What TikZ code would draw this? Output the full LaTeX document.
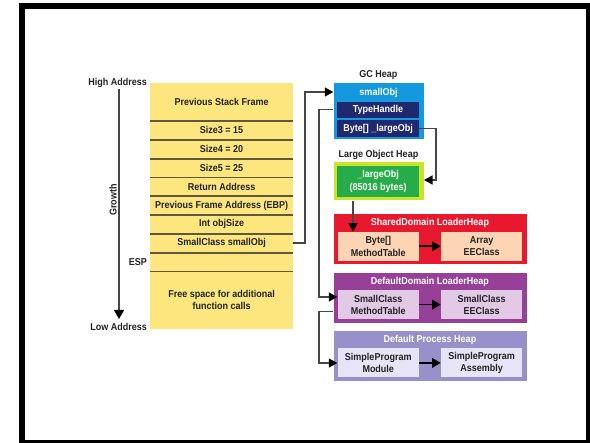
\documentclass[tikz,border=0pt]{standalone}
\usepackage{fontspec}
\setmainfont[FakeStretch=0.9]{Liberation Sans}
\usetikzlibrary{arrows.meta}
\definecolor{stackyellow}{RGB}{253,230,125}
\definecolor{sepcol}{RGB}{95,88,60}
\definecolor{gcblue}{RGB}{20,152,222}
\definecolor{navy}{RGB}{32,40,112}
\definecolor{limec}{RGB}{204,228,40}
\definecolor{lohgreen}{RGB}{38,172,72}
\definecolor{sdred}{RGB}{232,24,46}
\definecolor{peach}{RGB}{253,212,180}
\definecolor{ddpurple}{RGB}{150,64,152}
\definecolor{lavender}{RGB}{226,202,230}
\definecolor{dpblue}{RGB}{152,144,202}
\definecolor{paleblue}{RGB}{230,228,246}
\definecolor{txt}{RGB}{35,35,35}
\definecolor{connc}{RGB}{70,70,70}
\tikzset{
  fnt/.style={font=\fontsize{10}{12.3}\selectfont\bfseries},
  lbl/.style={fnt, text=txt, inner sep=0pt},
  wlbl/.style={fnt, text=white, inner sep=0pt},
  row/.style={fnt, fill=stackyellow, text=txt, minimum width=142.7pt, inner sep=0pt, anchor=north west, align=center},
  sep/.style={draw=sepcol, line width=1.8pt},
  heapbox/.style={minimum width=193.4pt, minimum height=50.3pt, inner sep=0pt, anchor=north west},
  inbox/.style={fnt, text=txt, minimum width=81.5pt, minimum height=28.8pt, inner sep=0pt, anchor=north west, align=center},
  conn/.style={draw=connc, line width=1.3pt, -{Triangle[length=8.5pt,width=9pt,color=black]}},
  inarrow/.style={draw=black, line width=1.8pt, -{Triangle[length=8.5pt,width=9.5pt]}},
}
\begin{document}
\begin{tikzpicture}[x=1pt,y=-1pt]
\useasboundingbox (0,0) rectangle (590,443);
% frame
\draw[line width=6pt] (22,6) rectangle (589,443);

% stack
\node[row, minimum height=38pt]   (r0) at (150,82.7)  {Previous Stack Frame};
\node[row, minimum height=18.8pt] (r1) at (150,120.7) {Size3 = 15};
\node[row, minimum height=18.8pt] (r2) at (150,139.5) {Size4 = 20};
\node[row, minimum height=18.8pt] (r3) at (150,158.3) {Size5 = 25};
\node[row, minimum height=18.8pt] (r4) at (150,177.1) {Return Address};
\node[row, minimum height=18.8pt] (r5) at (150,195.9) {Previous Frame Address (EBP)};
\node[row, minimum height=18.8pt] (r6) at (150,214.7) {Int objSize};
\node[row, minimum height=18.8pt] (r7) at (150,233.5) {SmallClass smallObj};
\node[row, minimum height=18.8pt] (r8) at (150,252.3) {};
\node[row, minimum height=57.3pt] (r9) at (150,271.1) {Free space for additional\\function calls};
\foreach \r in {r0,r1,r2,r3,r4,r5,r6,r7,r8}
  \draw[sep] (\r.south west) -- (\r.south east);

% left labels
\node[lbl, anchor=east] (high) at (147,83) {High Address};
\node[lbl, anchor=east] (low) at (147,327) {Low Address};
\node[lbl, anchor=east] (esp) at (147,262) {ESP};
\node[lbl, rotate=90] (growth) at (113,200) {Growth};
\coordinate (gtop) at (119,89);
\coordinate (gbot) at (119,319);
\draw[draw=connc, line width=1.3pt, -{Triangle[length=9pt,width=10pt,color=black]}] (gtop) -- (gbot);

% GC heap
\node[lbl] (gctitle) at (378.5,75) {GC Heap};
\node[fill=gcblue, minimum width=90.7pt, minimum height=56pt, inner sep=0pt, anchor=north west] (gc) at (333.3,83.3) {};
\node[wlbl] (smallobj) at (378.5,92.5) {smallObj};
\node[fnt, fill=navy, text=white, minimum width=82.3pt, minimum height=15.8pt, inner sep=0pt, anchor=north west] (th) at (336.7,101.7) {TypeHandle};
\node[fnt, fill=navy, text=white, minimum width=82.3pt, minimum height=16.5pt, inner sep=0pt, anchor=north west] (bl) at (336.7,120.2) {Byte[] \_largeObj};

% Large object heap
\node[lbl] (lohtitle) at (378.5,155) {Large Object Heap};
\node[fill=limec, minimum width=90.7pt, minimum height=38.5pt, inner sep=0pt, anchor=north west] (loh) at (333.3,161.7) {};
\node[fnt, fill=lohgreen, text=white, minimum width=82.3pt, minimum height=30.5pt, inner sep=0pt, anchor=north west, align=center] (lo) at (336.7,166) {\_largeObj\\(85016 bytes)};

% SharedDomain LoaderHeap
\node[heapbox, fill=sdred] (sd) at (333.3,214) {};
\node[wlbl] (sdtitle) at (430,223) {SharedDomain LoaderHeap};
\node[inbox, fill=peach] (bm) at (337.3,231.7) {Byte[]\\MethodTable};
\node[inbox, fill=peach] (ae) at (440.7,231.7) {Array\\EEClass};

% DefaultDomain LoaderHeap
\node[heapbox, fill=ddpurple] (dd) at (333.3,272.7) {};
\node[wlbl] (ddtitle) at (430,281.7) {DefaultDomain LoaderHeap};
\node[inbox, fill=lavender] (mt) at (337.3,290) {SmallClass\\MethodTable};
\node[inbox, fill=lavender] (ee) at (440.7,290) {SmallClass\\EEClass};

% Default Process Heap
\node[heapbox, fill=dpblue] (dp) at (333.3,331) {};
\node[wlbl] (dptitle) at (430,340) {Default Process Heap};
\node[inbox, fill=paleblue] (spm) at (337.3,348.3) {SimpleProgram\\Module};
\node[inbox, fill=paleblue] (spa) at (440.7,348.3) {SimpleProgram\\Assembly};

% inner arrows
\draw[inarrow] (bm.east) -- (ae.west);
\draw[inarrow] (mt.east) -- (ee.west);
\draw[inarrow] (spm.east) -- (spa.west);

% connectors
\coordinate (x1) at (305,0);
\coordinate (x2) at (319,0);
\coordinate (x3) at (436,0);
\coordinate (x4) at (353,0);
\coordinate (gcin) at (333.3,92);
\coordinate (mtin) at (337.3,297);
\coordinate (mtout) at (333.3,311.5);
\coordinate (spmin) at (337.3,363);
\coordinate (lohin) at (424,180);
\draw[conn] (r7.east) -- (r7.east -| x1) |- (gcin);
\draw[conn] (gc.west |- th.west) -- (th.west -| x2) |- (mtin);
\draw[conn] (mtout) -- (mtout -| x2) |- (spmin);
\draw[conn] (bl.east) -- (bl.east -| x3) |- (lohin);
\draw[conn] (loh.south -| x4) -- (bm.north -| x4);
\end{tikzpicture}
\end{document}
